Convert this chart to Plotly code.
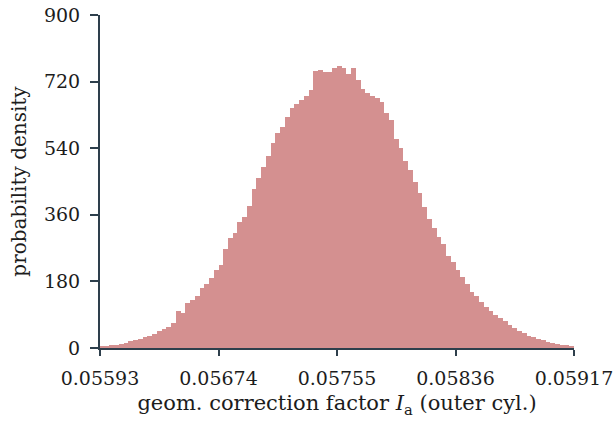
import plotly.graph_objects as go

x_min = 0.05593
x_max = 0.05917
n_bins = 100
tick_vals_x = [0.05593, 0.05674, 0.05755, 0.05836, 0.05917]
tick_labels_x = ["0.05593", "0.05674", "0.05755", "0.05836", "0.05917"]
tick_vals_y = [0, 180, 360, 540, 720, 900]

density = [
    3, 5, 7, 9, 11, 14, 18, 21, 25, 29,
    33, 38, 45, 52, 58, 68, 100, 95, 122, 130,
    140, 162, 172, 190, 210, 225, 268, 298, 310, 340,
    355, 385, 430, 460, 490, 520, 555, 580, 597, 625,
    648, 660, 670, 680, 697, 750, 752, 745, 745, 758,
    762, 758, 740, 757, 725, 700, 690, 680, 675, 665,
    635, 615, 565, 540, 505, 482, 450, 420, 380, 350,
    325, 300, 280, 248, 232, 210, 192, 172, 152, 140,
    125, 112, 100, 90, 82, 72, 62, 55, 47, 40,
    33, 29, 25, 21, 17, 13, 11, 9, 7, 5,
]

bw = (x_max - x_min) / n_bins
centers = [x_min + bw * (i + 0.5) for i in range(n_bins)]

axis_col = "#2e3f4c"
font_fam = "DejaVu Serif"

fig = go.Figure(go.Bar(x=centers, y=density, width=[bw] * n_bins,
                       marker=dict(color="#d49090", line=dict(width=0)),
                       hoverinfo="skip"))

fig.update_layout(
    width=613, height=434,
    margin=dict(l=100, r=39, t=15, b=86),
    paper_bgcolor="white", plot_bgcolor="white",
    bargap=0, showlegend=False,
    font=dict(family=font_fam, size=19, color="#1c1c1c"),
)
fig.update_xaxes(
    range=[x_min, x_max], tickvals=tick_vals_x, ticktext=tick_labels_x,
    automargin=False, ticklabeloverflow="allow", ticklabelstandoff=6,
    showgrid=False, zeroline=False, showline=True, linecolor=axis_col, linewidth=2,
    ticks="outside", ticklen=6, tickwidth=2, tickcolor=axis_col,
    title=dict(text="geom. correction factor <i>I</i><sub>a</sub> (outer cyl.)",
               standoff=8, font=dict(size=21)),
)
fig.update_yaxes(
    range=[0, 900], tickvals=tick_vals_y,
    automargin=False, ticklabeloverflow="allow", ticklabelstandoff=6,
    showgrid=False, zeroline=False, showline=True, linecolor=axis_col, linewidth=2,
    ticks="outside", ticklen=8, tickwidth=2, tickcolor=axis_col,
    title=dict(text="probability density", standoff=12, font=dict(size=20)),
)

fig.write_html("out.html", config={"displayModeBar": False},
               post_script="document.body.style.margin='0';")
